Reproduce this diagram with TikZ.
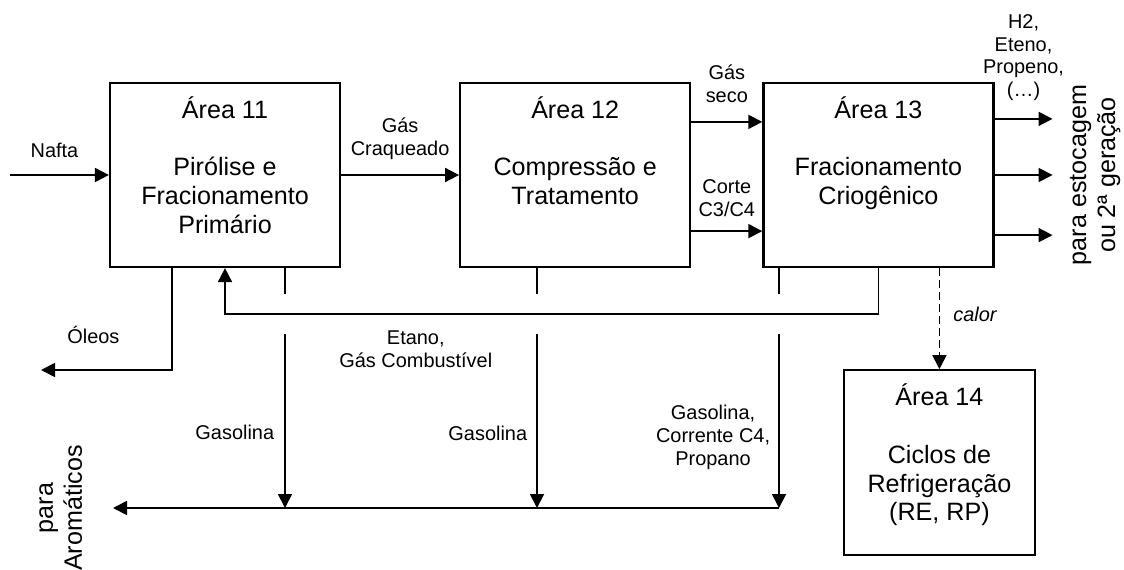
\documentclass[tikz,border=0pt]{standalone}
\usepackage{fontspec}
\setmainfont{Liberation Sans}
\usepackage{tikz}
\usetikzlibrary{positioning, arrows.meta, calc}

\begin{document}
\begin{tikzpicture}[
    x=0.5bp, y=-0.5bp,
    every node/.style={font=\fontsize{10}{11.5}\selectfont, align=center, inner sep=0pt},
    area/.style    ={draw, line width=1.1bp, minimum width=115bp, minimum height=92bp},
    areatext/.style={font=\fontsize{12.6}{14.5}\selectfont, anchor=north},
    sidetext/.style={font=\fontsize{12.6}{14.5}\selectfont, rotate=90, anchor=north},
    arrow/.style   ={-{Triangle[length=7bp, width=7bp]}, line width=0.9bp},
    heat/.style    ={arrow, dash pattern=on 4bp off 2bp}
]
\useasboundingbox (0,0) rectangle (1124,569);

% Row 1: the three process areas
\node[area] (a11) at (225,175) {};
\node[area, right=59bp of a11]   (a12) {};
\node[area, right=35.5bp of a12] (a13) {};

% Row 2: refrigeration
\node[area, below=50.5bp of a13, xshift=30.5bp, minimum width=95.5bp, minimum height=92.5bp] (a14) {};

% Box texts
\node[areatext, below=7bp of a11.north] (t11) {Área 11\\[14.5bp]Pirólise e\\Fracionamento\\Primário};
\node[areatext, below=7bp of a12.north] (t12) {Área 12\\[14.5bp]Compressão e\\Tratamento};
\node[areatext, below=7bp of a13.north] (t13) {Área 13\\[14.5bp]Fracionamento\\Criogênico};
\node[areatext, below=7bp of a14.north] (t14) {Área 14\\[14.5bp]Ciclos de\\Refrigeração\\(RE, RP)};

% Free ends
\coordinate (nafta) at (10,175);
\coordinate (oleos) at (41,370);
\coordinate (o1) at ([xshift=29bp, yshift=-18.5bp]a13.north east);
\coordinate (o2) at ([xshift=29bp]a13.east);
\coordinate (o3) at ([xshift=29bp, yshift=16.5bp]a13.south east);
\coordinate (g1)   at (285,508);
\coordinate (g2)   at (537,508);
\coordinate (g3)   at (779,508);
\coordinate (arom) at (113,508);

% Main line
\draw[arrow] (nafta) -- node[above=8bp, pos=0.45] {Nafta} (a11);
\draw[arrow] (a11) -- node[above=7.4bp] {Gás\\Craqueado} (a12);
\draw[arrow] ([yshift=-20bp]a12.north east) -- node[above=9bp] {Gás\\seco} ([yshift=-20bp]a13.north west);
\draw[arrow] ([yshift=18.5bp]a12.south east) -- node[above=7bp] {Corte\\C3/C4} ([yshift=18.5bp]a13.south west);

% Products
\draw[arrow] (a13.east |- o1) -- node[above=8.5bp] {H2,\\Eteno,\\Propeno,\\(…)} (o1);
\draw[arrow] (a13) -- (o2);
\draw[arrow] (a13.east |- o3) -- (o3);
\node[sidetext] (estoc) at ([xshift=8.5bp]o2) {para estocagem\\ou 2ª geração};

% Oils and recycle
\draw[arrow] ([xshift=-26.5bp]a11.south) |- node[above=12.6bp, pos=0.8] {Óleos} (oleos);
\draw[arrow] (a13.south) -- ++(0,46) -| node[below=7.8bp, pos=0.354] {Etano,\\Gás Combustível} (a11.south);

% Gasoline collector
\draw[arrow] (g1 |- a11.south) -- ++(0,26) ++(0,40) -- node[left=5bp, pos=0.566] {Gasolina} (g1);
\draw[arrow] (g2 |- a12.south) -- ++(0,26) ++(0,40) -- node[left=4.5bp, pos=0.57] {Gasolina} (g2);
\draw[arrow] (g3 |- a13.south) -- ++(0,26) ++(0,40) -- node[left=4bp, pos=0.594] {Gasolina,\\Corrente C4,\\Propano} (g3);
\draw[arrow] (g3) -- (arom);
\node[sidetext] (aromat) at ([xshift=-37bp]arom) {para\\Aromáticos};

% Heat to refrigeration
\draw[heat] (a14.north |- a13.south) -- node[right=6.5bp, pos=0.46, font=\fontsize{10}{11.5}\selectfont\itshape] {calor} (a14.north);

\end{tikzpicture}
\end{document}
